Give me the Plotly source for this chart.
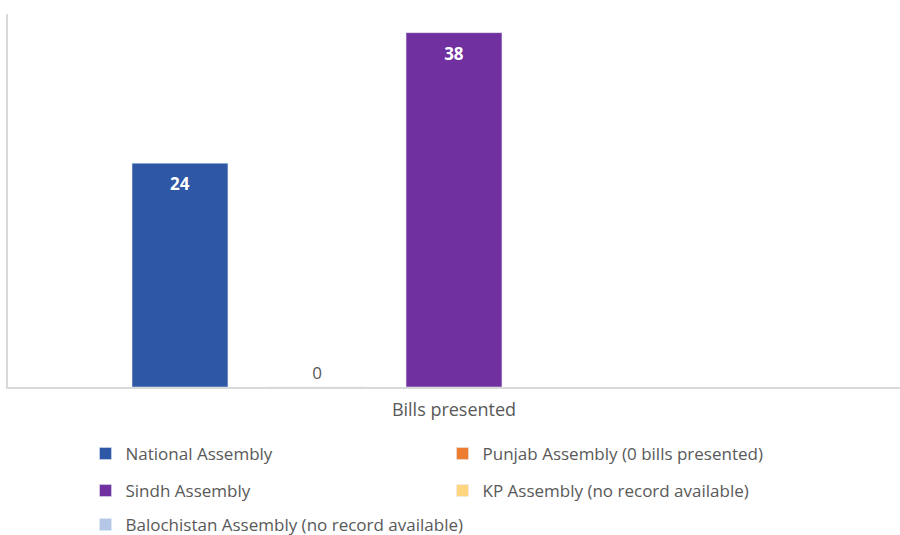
import plotly.graph_objects as go

categories = ["Bills presented"]
series_names = [
    "National Assembly",
    "Punjab Assembly (0 bills presented)",
    "Sindh Assembly",
    "KP Assembly (no record available)",
    "Balochistan Assembly (no record available)",
]
series_values = [[24], [0], [38], [None], [None]]
series_labels = [["24"], ["0"], ["38"], [""], [""]]
colors = ["#2E57A5", "#ED7D31", "#7030A0", "#FFD580", "#B4C7E7"]
legend_ids = ["legend", "legend", "legend2", "legend2", "legend3"]

FONT = "Open Sans, Liberation Sans, sans-serif"
GRAY = "#595959"
SPACER = "<span style='font-size:2px'>\u00a0</span><br>"

fig = go.Figure()
for name, vals, labs, col, lg in zip(series_names, series_values, series_labels, colors, legend_ids):
    inside = labs[0] not in ("", "0")
    fig.add_trace(go.Bar(
        x=categories, y=vals, name=name, marker_color=col,
        text=[(SPACER + t) if inside else t for t in labs],
        textposition="inside" if inside else "outside",
        insidetextanchor="end",
        textfont=dict(family=FONT, size=17,
                      color="white" if inside else GRAY,
                      weight="bold" if inside else "normal"),
        cliponaxis=False,
        legend=lg,
    ))

legend_common = dict(orientation="h", entrywidthmode="pixels",
                     font=dict(family=FONT, size=17, color=GRAY),
                     xref="container", yref="container",
                     xanchor="left", yanchor="middle", bgcolor="rgba(0,0,0,0)",
                     itemclick=False, itemdoubleclick=False)

fig.update_layout(
    width=900, height=535,
    margin=dict(l=8, r=0, t=14, b=148, autoexpand=False),
    paper_bgcolor="white", plot_bgcolor="white",
    barmode="group", bargap=0.232, bargroupgap=0.30,
    xaxis=dict(showline=True, linecolor="#D9D9D9", linewidth=1.5,
               showgrid=False, ticks="", ticklabelstandoff=6,
               tickfont=dict(family=FONT, size=18, color=GRAY)),
    yaxis=dict(range=[0, 40], showline=True, linecolor="#D9D9D9", linewidth=1.5,
               showgrid=False, showticklabels=False, ticks="", zeroline=False),
    showlegend=True,
    legend=dict(x=0.095, y=1 - 454 / 535, entrywidth=312, **legend_common),
    legend2=dict(x=0.095, y=1 - 491 / 535, entrywidth=312, **legend_common),
    legend3=dict(x=0.095, y=1 - 525 / 535, entrywidth=500, **legend_common),
)

fig.write_html("out.html")
